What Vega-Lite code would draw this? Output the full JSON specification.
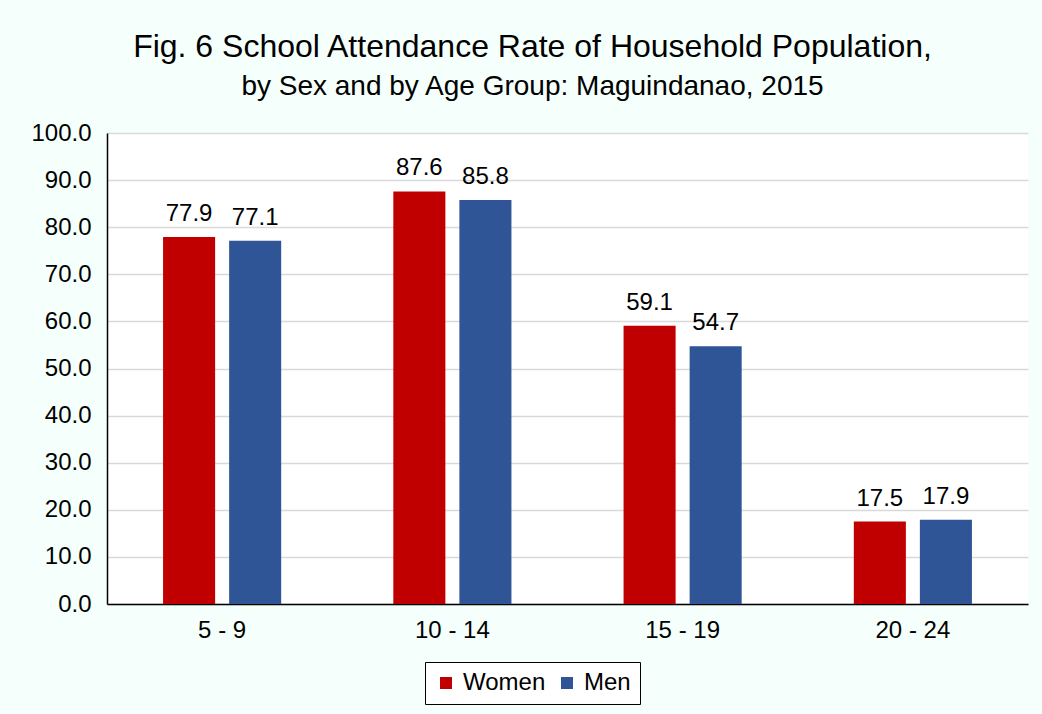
{
  "$schema": "https://vega.github.io/schema/vega-lite/v6.json",
  "width": 921,
  "height": 471,
  "autosize": {"type": "none"},
  "padding": {"left": 107, "top": 133, "right": 14, "bottom": 110},
  "background": "#F5FFFB",
  "title": {
    "text": "Fig. 6 School Attendance Rate of Household Population,",
    "subtitle": "by Sex and by Age Group: Maguindanao, 2015",
    "anchor": "middle",
    "dx": -35,
    "font": "Liberation Sans",
    "subtitleFont": "Liberation Sans",
    "fontSize": 32,
    "subtitleFontSize": 28,
    "fontWeight": "normal",
    "color": "black",
    "subtitleColor": "black",
    "offset": 19,
    "subtitlePadding": 9
  },
  "data": {
    "values": [
      {"age": "5 - 9", "sex": "Women", "rate": 77.9},
      {"age": "5 - 9", "sex": "Men", "rate": 77.1},
      {"age": "10 - 14", "sex": "Women", "rate": 87.6},
      {"age": "10 - 14", "sex": "Men", "rate": 85.8},
      {"age": "15 - 19", "sex": "Women", "rate": 59.1},
      {"age": "15 - 19", "sex": "Men", "rate": 54.7},
      {"age": "20 - 24", "sex": "Women", "rate": 17.5},
      {"age": "20 - 24", "sex": "Men", "rate": 17.9}
    ]
  },
  "encoding": {
    "x": {
      "field": "age",
      "type": "nominal",
      "sort": ["5 - 9", "10 - 14", "15 - 19", "20 - 24"],
      "scale": {"paddingInner": 0.487, "paddingOuter": 0.2435},
      "axis": {
        "title": null,
        "labelAngle": 0,
        "ticks": false,
        "labelPadding": 14,
        "domainColor": "black",
        "domainWidth": 1.5
      }
    },
    "xOffset": {
      "field": "sex",
      "type": "nominal",
      "sort": ["Women", "Men"],
      "scale": {"paddingInner": 0.212, "paddingOuter": 0}
    },
    "y": {
      "field": "rate",
      "type": "quantitative",
      "scale": {"domain": [0, 100], "nice": false},
      "axis": {
        "title": null,
        "values": [0, 10, 20, 30, 40, 50, 60, 70, 80, 90, 100],
        "format": ".1f",
        "ticks": false,
        "labelPadding": 16,
        "grid": true,
        "gridColor": "#D9D9D9",
        "gridWidth": 1.5,
        "domainColor": "black",
        "domainWidth": 1.5
      }
    }
  },
  "layer": [
    {
      "mark": {"type": "bar"},
      "encoding": {
        "color": {
          "field": "sex",
          "type": "nominal",
          "sort": ["Women", "Men"],
          "scale": {"domain": ["Women", "Men"], "range": ["#C00000", "#2F5597"]},
          "legend": {
            "title": null,
            "orient": "none",
            "legendX": 318,
            "legendY": 529,
            "direction": "horizontal",
            "symbolType": "square",
            "symbolSize": 144,
            "symbolStrokeWidth": 0,
            "labelFontSize": 24,
            "labelFont": "Liberation Sans",
            "labelColor": "black",
            "labelOffset": 5,
            "columnPadding": 9,
            "padding": 9,
            "strokeColor": "black",
            "fillColor": "white"
          }
        }
      }
    },
    {
      "mark": {
        "type": "text",
        "baseline": "alphabetic",
        "dy": -16,
        "fontSize": 24,
        "font": "Liberation Sans",
        "color": "black"
      },
      "encoding": {
        "text": {"field": "rate", "type": "quantitative", "format": ".1f"}
      }
    }
  ],
  "config": {
    "view": {"fill": "white", "stroke": null},
    "axis": {
      "labelFont": "Liberation Sans",
      "labelFontSize": 24,
      "labelColor": "black"
    }
  }
}
